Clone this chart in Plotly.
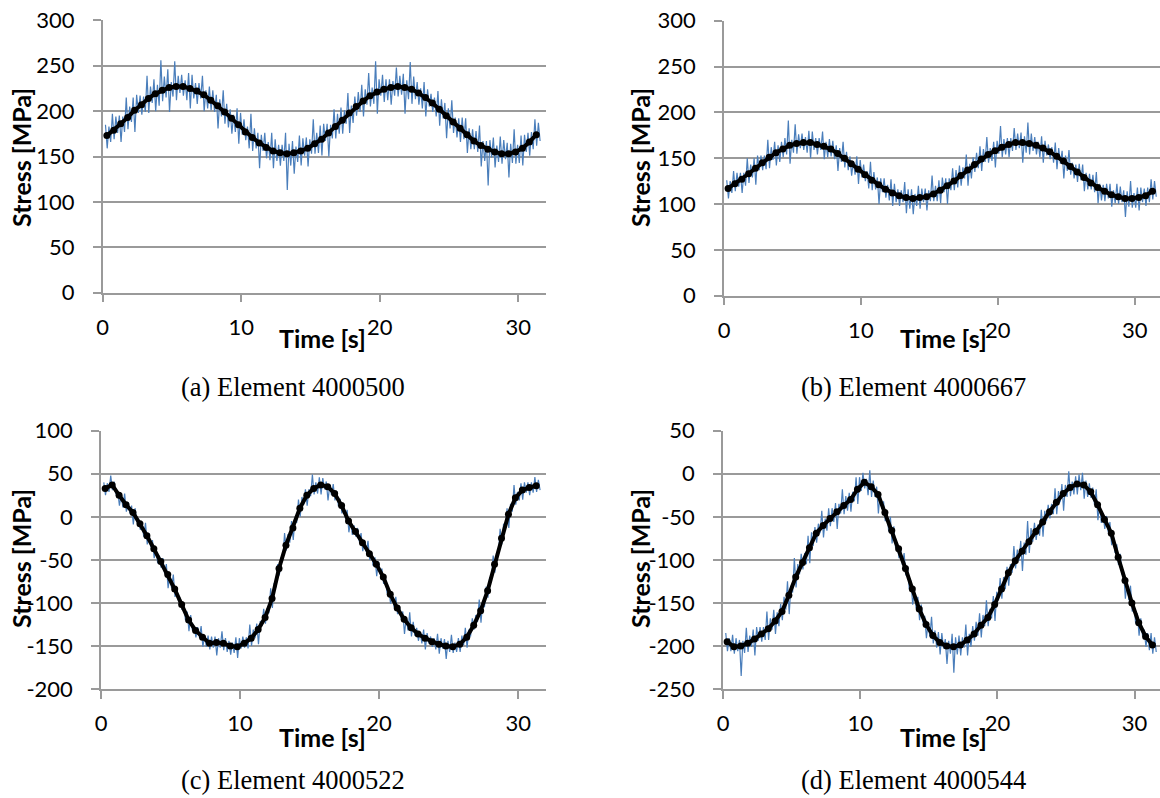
import plotly.graph_objects as go

W, H = 1160, 798

# time axis (s): smoothed curve every 0.5 s, raw signal every 0.125 s
t_mean = [round(0.3 + 0.5 * k, 3) for k in range(63)]
t_raw = [round(0.2 + 0.125 * j, 3) for j in range(252)]

# (a) Element 4000500
mean_a = [173, 179, 186, 193, 201, 207, 214, 219, 223, 226, 227, 227, 225, 222, 218, 212, 206, 199, 192, 185,
          177, 171, 165, 160, 156, 154, 153, 154, 156, 159, 164, 169, 176, 183, 190, 198, 205, 211, 217, 221,
          224, 226, 227, 226, 224, 220, 215, 209, 202, 195, 188, 181, 174, 167, 162, 158, 155, 153, 153, 155,
          159, 166, 174]
hi_a = [185, 197, 195, 215, 215, 217, 239, 235, 256, 246, 255, 240, 242, 231, 239, 227, 218, 223, 202, 203,
        191, 197, 176, 176, 176, 163, 176, 167, 173, 171, 191, 184, 186, 202, 204, 220, 216, 229, 242, 255,
        240, 235, 248, 241, 254, 232, 232, 219, 222, 209, 212, 192, 192, 180, 184, 167, 171, 172, 165, 180,
        173, 176, 191]
lo_a = [159, 169, 166, 180, 177, 196, 198, 200, 211, 199, 212, 217, 203, 208, 200, 201, 181, 186, 175, 164,
        168, 156, 137, 148, 137, 140, 113, 131, 140, 139, 153, 151, 150, 170, 175, 176, 195, 194, 205, 197,
        210, 207, 216, 197, 208, 207, 194, 199, 184, 170, 176, 166, 154, 158, 139, 118, 138, 142, 127, 142,
        140, 151, 162]
hi2_a = [183, 194, 194, 205, 218, 216, 227, 229, 238, 232, 239, 234, 240, 231, 223, 223, 213, 208, 196, 198,
         183, 181, 174, 166, 169, 163, 164, 161, 170, 169, 176, 186, 185, 197, 201, 206, 221, 224, 226, 235,
         235, 233, 239, 234, 238, 225, 224, 215, 213, 203, 193, 193, 181, 178, 167, 168, 162, 168, 164, 163,
         174, 177, 187]
lo2_a = [166, 176, 177, 188, 198, 199, 209, 206, 215, 216, 220, 212, 214, 214, 203, 199, 194, 182, 177, 174,
         159, 159, 156, 146, 145, 145, 140, 144, 151, 153, 154, 167, 170, 175, 186, 187, 199, 207, 208, 217,
         212, 217, 218, 213, 213, 203, 205, 194, 192, 181, 171, 169, 158, 155, 145, 149, 144, 147, 143, 143,
         155, 158, 167]

# (b) Element 4000667
mean_b = [117, 122, 127, 133, 139, 145, 151, 156, 160, 164, 166, 167, 167, 165, 163, 160, 155, 150, 144, 138,
          132, 126, 121, 116, 112, 109, 107, 106, 107, 108, 111, 115, 120, 125, 131, 137, 143, 149, 154, 158,
          162, 165, 167, 167, 166, 164, 161, 157, 152, 147, 141, 135, 129, 123, 118, 114, 110, 108, 106, 106,
          107, 109, 114]
hi_b = [126, 136, 134, 150, 150, 153, 170, 168, 168, 191, 187, 177, 180, 172, 179, 171, 164, 168, 152, 152,
        143, 146, 129, 128, 127, 116, 124, 116, 120, 117, 131, 126, 128, 139, 142, 154, 151, 163, 173, 168,
        185, 172, 183, 178, 189, 173, 174, 165, 167, 158, 159, 143, 143, 133, 135, 121, 122, 122, 115, 125,
        118, 117, 127]
lo_b = [106, 114, 112, 123, 121, 137, 139, 142, 151, 144, 155, 159, 150, 154, 149, 152, 136, 140, 131, 122,
        125, 115, 100, 107, 98, 98, 90, 89, 95, 93, 103, 101, 100, 115, 120, 120, 135, 136, 145, 140,
        151, 151, 159, 145, 154, 154, 145, 149, 138, 128, 132, 124, 114, 116, 101, 103, 97, 100, 86, 96,
        93, 98, 105]
hi2_b = [125, 134, 134, 143, 153, 153, 162, 164, 172, 170, 176, 173, 179, 172, 168, 169, 161, 157, 147, 148,
         136, 135, 128, 121, 122, 115, 116, 111, 117, 115, 120, 129, 128, 137, 140, 144, 156, 160, 161, 169,
         171, 172, 177, 174, 177, 168, 169, 162, 161, 153, 145, 144, 134, 132, 122, 122, 115, 119, 114, 112,
         118, 118, 125]
lo2_b = [112, 119, 120, 129, 137, 138, 148, 146, 154, 156, 161, 156, 159, 159, 151, 149, 146, 137, 132, 129,
         117, 116, 113, 104, 102, 102, 95, 98, 102, 103, 103, 113, 115, 118, 128, 128, 139, 146, 147, 155,
         154, 158, 161, 156, 158, 151, 153, 145, 144, 136, 128, 126, 116, 113, 104, 106, 101, 102, 97, 96,
         102, 102, 108]

# (c) Element 4000522
mean_c = [33, 37, 25, 14, 5, -8, -22, -37, -52, -67, -84, -102, -120, -132, -140, -147, -146, -147, -150, -151,
          -147, -141, -131, -117, -95, -60, -33, -13, 10, 25, 33, 37, 35, 27, 13, -5, -17, -30, -43, -55,
          -70, -90, -106, -119, -129, -136, -141, -145, -148, -150, -151, -148, -140, -126, -109, -86, -55, -25, 3, 22,
          31, 34, 36]
hi_c = [40, 48, 30, 27, 13, -2, -7, -27, -45, -55, -67, -94, -110, -127, -127, -138, -139, -133, -144, -140,
        -139, -125, -124, -107, -83, -55, -19, -5, 20, 32, 49, 46, 41, 38, 21, 8, -10, -19, -28, -47,
        -60, -85, -93, -110, -111, -129, -131, -139, -136, -142, -137, -141, -129, -118, -96, -81, -45, -14, 10, 37,
        39, 40, 46]
lo_c = [25, 31, 13, 6, -9, -15, -32, -48, -59, -83, -93, -108, -133, -140, -151, -154, -161, -155, -160, -164,
        -152, -150, -148, -124, -106, -68, -39, -27, 0, 13, 26, 26, 19, 19, 4, -18, -23, -40, -50, -69,
        -78, -101, -113, -136, -139, -144, -154, -151, -159, -165, -158, -157, -152, -131, -123, -94, -65, -32, -13, 14,
        20, 25, 29]
hi2_c = [39, 41, 26, 17, 10, -8, -19, -36, -48, -68, -82, -102, -114, -128, -138, -139, -141, -141, -146, -141,
         -140, -131, -121, -106, -77, -47, -20, -2, 23, 32, 40, 45, 37, 30, 13, -5, -13, -27, -42, -52,
         -70, -91, -103, -117, -122, -134, -135, -141, -141, -144, -146, -138, -131, -114, -98, -70, -41, -8, 15, 29,
         40, 40, 43]
lo2_c = [29, 26, 11, 4, -6, -23, -35, -54, -66, -83, -98, -120, -132, -140, -151, -152, -152, -157, -158, -153,
         -153, -141, -127, -112, -82, -50, -30, -7, 14, 24, 27, 32, 25, 12, -2, -21, -29, -41, -57, -67,
         -89, -105, -118, -132, -138, -147, -147, -154, -153, -157, -157, -149, -139, -122, -105, -73, -45, -14, 6, 19,
         28, 28, 31]

# (d) Element 4000544
mean_d = [-195, -201, -200, -197, -192, -186, -180, -171, -160, -141, -120, -103, -86, -69, -60, -52, -44, -37, -30, -18,
          -10, -15, -24, -45, -66, -87, -110, -134, -157, -175, -188, -196, -200, -201, -199, -193, -186, -176, -167, -152,
          -134, -115, -101, -90, -79, -67, -56, -44, -33, -23, -16, -12, -13, -21, -36, -53, -69, -97, -124, -150,
          -173, -189, -199]
hi_d = [-185, -187, -193, -179, -181, -178, -160, -158, -151, -125, -98, -93, -72, -62, -43, -40, -34, -18, -22, -4,
        1, 4, -15, -32, -50, -80, -92, -124, -143, -165, -166, -184, -192, -186, -188, -175, -177, -162, -147, -142,
        -121, -108, -84, -78, -55, -57, -42, -36, -17, -12, 3, -3, 1, -11, -18, -46, -56, -82, -114, -130,
        -162, -181, -185]
lo_d = [-206, -209, -235, -207, -211, -195, -193, -186, -170, -163, -132, -111, -104, -80, -74, -61, -64, -47, -44, -35,
        -17, -27, -46, -55, -81, -98, -118, -152, -170, -191, -197, -210, -221, -231, -211, -211, -194, -190, -177, -171,
        -145, -130, -110, -113, -92, -77, -73, -52, -47, -43, -26, -24, -29, -28, -54, -64, -83, -106, -145, -160,
        -188, -201, -209]
hi2_d = [-191, -191, -194, -188, -178, -178, -168, -161, -143, -130, -105, -92, -68, -58, -52, -40, -35, -26, -21, -4,
         -6, -8, -22, -45, -61, -87, -108, -136, -152, -173, -182, -185, -194, -190, -190, -186, -172, -164, -157, -137,
         -120, -105, -88, -80, -63, -59, -43, -35, -20, -13, -9, -1, -8, -16, -36, -49, -71, -93, -124, -151,
         -168, -185, -190]
lo2_d = [-206, -206, -208, -201, -194, -193, -181, -177, -158, -138, -117, -105, -84, -69, -66, -56, -46, -43, -32, -20,
         -25, -27, -41, -67, -86, -106, -134, -156, -173, -189, -202, -203, -209, -210, -202, -201, -188, -177, -168, -147,
         -134, -115, -101, -94, -79, -72, -55, -47, -33, -27, -24, -19, -27, -36, -57, -68, -92, -117, -147, -174,
         -188, -205, -207]

captions = ["(a) Element 4000500", "(b) Element 4000667", "(c) Element 4000522", "(d) Element 4000544"]
y_ranges = [[0, 300], [0, 300], [-200, 100], [-250, 50]]
x_ticks = [0, 10, 20, 30]

# plot boxes in pixels: left, right, top, bottom
boxes = [(102.7, 546, 20.3, 292.7), (724, 1160, 20.7, 295.7),
         (101, 546, 430.7, 689), (723, 1160, 430.7, 689)]
x_max = [32, 31.85, 32, 31.85]

BLUE = "#4A7EBB"
GRID = "#9A9A9A"
TICK_FONT = dict(family="Lato", size=22, color="#000000")
TITLE_FONT = dict(family="Lato", size=25, color="#000000")


def px(x, y):
    return x / W, 1 - y / H


def raw_signal(hi, lo, hi2, lo2):
    out = []
    for a, b, c, d in zip(hi, lo, hi2, lo2):
        out += [a, b, c, d]
    return out


series = [(mean_a, hi_a, lo_a, hi2_a, lo2_a), (mean_b, hi_b, lo_b, hi2_b, lo2_b),
          (mean_c, hi_c, lo_c, hi2_c, lo2_c), (mean_d, hi_d, lo_d, hi2_d, lo2_d)]

fig = go.Figure()
annotations = []
for i, ((mean, hi, lo, hi2, lo2), cap, yr, box, xm) in enumerate(zip(series, captions, y_ranges, boxes, x_max)):
    n = i + 1
    xa, ya = ("x" if n == 1 else f"x{n}"), ("y" if n == 1 else f"y{n}")
    fig.add_trace(go.Scatter(x=t_raw, y=raw_signal(hi, lo, hi2, lo2), mode="lines", xaxis=xa, yaxis=ya,
                             line=dict(color=BLUE, width=1.2), showlegend=False))
    fig.add_trace(go.Scatter(x=t_mean, y=mean, mode="lines+markers", xaxis=xa, yaxis=ya,
                             line=dict(color="black", width=4),
                             marker=dict(color="black", size=7), showlegend=False))

    l, r, t, b = box
    yticks = list(range(yr[0], yr[1] + 1, 50))
    key = "" if n == 1 else str(n)
    fig.update_layout({
        f"xaxis{key}": dict(domain=[l / W, r / W], range=[0, xm], anchor=ya, automargin=False,
                            tickvals=x_ticks, ticktext=[str(v) for v in x_ticks],
                            showgrid=False, zeroline=False, showline=True, linecolor=GRID, linewidth=1.5,
                            ticks="outside", ticklen=8, tickwidth=1.5, tickcolor=GRID,
                            tickfont=TICK_FONT, ticklabelstandoff=6),
        f"yaxis{key}": dict(domain=[1 - b / H, 1 - t / H], range=yr, anchor=xa, automargin=False,
                            tickvals=yticks, ticktext=[str(v) for v in yticks],
                            showgrid=True, gridcolor=GRID, gridwidth=1.5, zeroline=False,
                            showline=True, linecolor=GRID, linewidth=1.5,
                            ticks="outside", ticklen=8, tickwidth=1.5, tickcolor=GRID,
                            tickfont=TICK_FONT, ticklabelstandoff=14),
    })

    cx = 293 if i % 2 == 0 else 913
    cy = 387 if i < 2 else 780
    x0, y0 = px(cx, cy)
    annotations.append(dict(text=cap, x=x0, y=y0, xref="paper", yref="paper", showarrow=False,
                            xanchor="center", yanchor="middle",
                            font=dict(family="Liberation Serif", size=26.5, color="#000000")))
    tx = 323 if i % 2 == 0 else 943
    ty = 338 if i < 2 else 737
    x0, y0 = px(tx, ty)
    annotations.append(dict(text="<b>Time [s]</b>", x=x0, y=y0, xref="paper", yref="paper", showarrow=False,
                            xanchor="center", yanchor="middle", font=TITLE_FONT))
    sx = 21 if i % 2 == 0 else 640
    sy = 158 if i < 2 else 559
    x0, y0 = px(sx, sy)
    annotations.append(dict(text="<b>Stress [MPa]</b>", x=x0, y=y0, xref="paper", yref="paper", showarrow=False,
                            textangle=-90, xanchor="center", yanchor="middle", font=TITLE_FONT))

fig.update_layout(width=W, height=H, margin=dict(l=0, r=0, t=0, b=0),
                  paper_bgcolor="white", plot_bgcolor="white",
                  annotations=annotations)

# page body margin would shift the figure by 8 px
fig.write_html("out.html", config={"displayModeBar": False},
               post_script="document.body.style.margin='0px';")
